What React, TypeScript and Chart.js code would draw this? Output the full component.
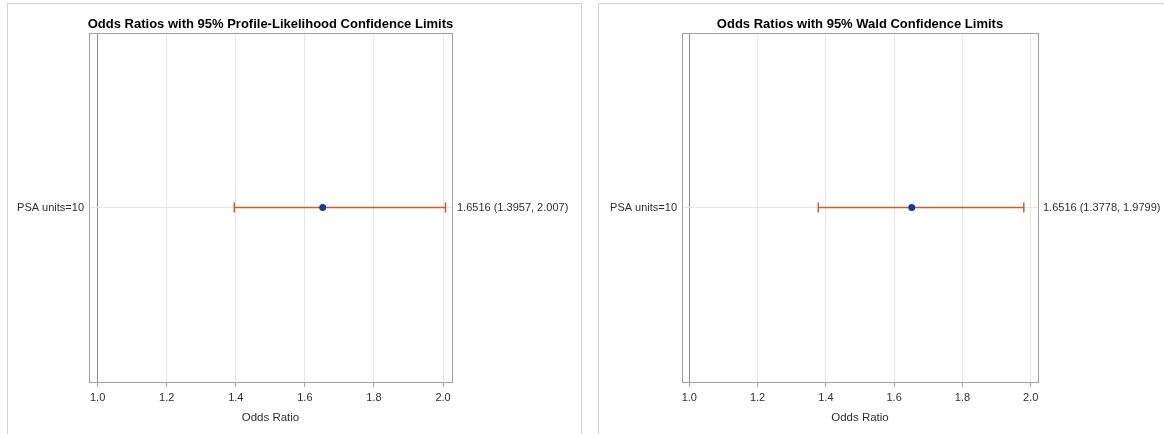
import React, { useEffect, useRef } from 'react';
import { Chart, registerables } from 'chart.js';

Chart.register(...registerables);

// Odds-ratio rows and their confidence limits
const categories = ['PSA units=10'];
const estimates = [1.6516];
const profileLower = [1.3957];
const profileUpper = [2.007];
const waldLower = [1.3778];
const waldUpper = [1.9799];
const xTicks = [1.0, 1.2, 1.4, 1.6, 1.8, 2.0];

const FONT = "'Liberation Sans', Arial, Helvetica, sans-serif";
const CI_COLOR = '#c95f30';
const EST_COLOR = '#17399a';
const FRAME_COLOR = '#a3a3a3';
const REF_COLOR = '#8e8e8e';
const GRID_COLOR = '#e6e6e6';
const TEXT_COLOR = '#2e2e2e';

const CANVAS_W = 575;
const CANVAS_H = 431;
const PLOT_TOP = 30;
const X_AXIS_H = 52;

type PanelProps = {
  title: string;
  lower: number[];
  upper: number[];
  xMin: number;
  xMax: number;
  leftW: number;
  rightW: number;
  left: number;
};

// Title centred over the plot area
const titlePlugin = {
  id: 'panelTitle',
  afterDraw(chart: any, _args: any, opts: any) {
    const { ctx, chartArea } = chart;
    ctx.save();
    ctx.font = `bold 13px ${FONT}`;
    ctx.fillStyle = '#000';
    ctx.textAlign = 'center';
    ctx.textBaseline = 'alphabetic';
    ctx.fillText(opts.text, (chartArea.left + chartArea.right) / 2, 25);
    ctx.restore();
  },
};

// Rectangle around the plot area
const framePlugin = {
  id: 'plotFrame',
  afterDatasetsDraw(chart: any) {
    const { ctx, chartArea } = chart;
    ctx.save();
    ctx.strokeStyle = FRAME_COLOR;
    ctx.lineWidth = 1;
    const l = Math.round(chartArea.left) + 0.5;
    const r = Math.round(chartArea.right) + 0.5;
    const t = Math.round(chartArea.top) + 0.5;
    const b = Math.round(chartArea.bottom) + 0.5;
    ctx.strokeRect(l, t, r - l, b - t);
    ctx.restore();
  },
};

function OddsPanel({ title, lower, upper, xMin, xMax, leftW, rightW, left }: PanelProps) {
  const canvasRef = useRef<HTMLCanvasElement | null>(null);

  useEffect(() => {
    if (!canvasRef.current) return;
    const rowTicks = () => categories.map((_, i) => ({ value: i + 1 }));
    const valueLabels = categories.map(
      (_, i) => `${estimates[i]} (${lower[i]}, ${upper[i]})`
    );

    const estimateData = categories.map((_, i) => ({ x: estimates[i], y: i + 1 }));
    const ciDatasets = categories.map((_, i) => ({
      type: 'line' as const,
      data: [
        { x: lower[i], y: i + 1 },
        { x: upper[i], y: i + 1 },
      ],
      showLine: true,
      borderColor: CI_COLOR,
      borderWidth: 1.5,
      pointStyle: 'line' as const,
      pointRotation: 90,
      pointRadius: 5,
      pointBorderColor: CI_COLOR,
      pointBorderWidth: 1.5,
      pointBackgroundColor: CI_COLOR,
      yAxisID: 'y',
    }));

    const chart = new Chart(canvasRef.current, {
      type: 'scatter',
      data: {
        datasets: [
          {
            type: 'scatter',
            data: estimateData,
            pointRadius: 3.5,
            pointBackgroundColor: EST_COLOR,
            pointBorderColor: EST_COLOR,
            pointBorderWidth: 0,
            yAxisID: 'y',
          },
          ...ciDatasets,
        ] as any,
      },
      options: {
        responsive: false,
        animation: false,
        events: [],
        layout: { padding: { top: PLOT_TOP, left: 0, right: 0, bottom: 0 } },
        plugins: {
          legend: { display: false },
          tooltip: { enabled: false },
          title: { display: false },
          panelTitle: { text: title },
        } as any,
        scales: {
          x: {
            type: 'linear',
            position: 'bottom',
            min: xMin,
            max: xMax,
            afterBuildTicks: (scale: any) => {
              scale.ticks = xTicks.map((v) => ({ value: v }));
            },
            afterFit: (scale: any) => {
              scale.height = X_AXIS_H;
            },
            border: { display: false },
            grid: {
              color: (c: any) => (c.tick && c.tick.value === 1 ? REF_COLOR : GRID_COLOR),
              lineWidth: 1,
              drawTicks: true,
              tickLength: 5,
              tickColor: FRAME_COLOR,
            },
            ticks: {
              autoSkip: false,
              maxRotation: 0,
              padding: 4,
              color: TEXT_COLOR,
              font: { family: FONT, size: 11 },
              callback: (v: any) => Number(v).toFixed(1),
            },
            title: {
              display: true,
              text: 'Odds Ratio',
              color: TEXT_COLOR,
              font: { family: FONT, size: 11.5 },
              padding: { top: 0, bottom: 9 },
            },
          },
          y: {
            type: 'linear',
            position: 'left',
            min: 0,
            max: categories.length + 1,
            afterBuildTicks: (scale: any) => {
              scale.ticks = rowTicks();
            },
            afterFit: (scale: any) => {
              scale.width = leftW;
            },
            border: { display: false },
            grid: { color: GRID_COLOR, lineWidth: 1, drawTicks: false },
            ticks: {
              autoSkip: false,
              padding: 5,
              color: TEXT_COLOR,
              font: { family: FONT, size: 11 },
              callback: (_v: any, i: number) => categories[i],
            },
          },
          yRight: {
            type: 'linear',
            position: 'right',
            min: 0,
            max: categories.length + 1,
            afterBuildTicks: (scale: any) => {
              scale.ticks = rowTicks();
            },
            afterFit: (scale: any) => {
              scale.width = rightW;
            },
            border: { display: false },
            grid: { display: false, drawTicks: false },
            ticks: {
              autoSkip: false,
              padding: 5,
              color: TEXT_COLOR,
              font: { family: FONT, size: 11 },
              callback: (_v: any, i: number) => valueLabels[i],
            },
          },
        } as any,
      },
      plugins: [titlePlugin, framePlugin],
    });

    return () => chart.destroy();
  }, [title, lower, upper, xMin, xMax, leftW, rightW]);

  return (
    <>
      <div
        style={{
          position: 'absolute',
          left,
          top: 3,
          width: CANVAS_W,
          height: 480,
          boxSizing: 'border-box',
          border: '1px solid #d2d2d2',
        }}
      />
      <canvas
        ref={canvasRef}
        width={CANVAS_W}
        height={CANVAS_H}
        style={{
          position: 'absolute',
          left,
          top: 3,
          width: CANVAS_W,
          height: CANVAS_H,
        }}
      />
    </>
  );
}

export default function App() {
  return (
    <div
      style={{
        position: 'fixed',
        left: 0,
        top: 0,
        width: 1164,
        height: 434,
        overflow: 'hidden',
        background: '#ffffff',
      }}
    >
      <OddsPanel
        title="Odds Ratios with 95% Profile-Likelihood Confidence Limits"
        lower={profileLower}
        upper={profileUpper}
        xMin={0.9751}
        xMax={2.0258}
        leftW={82}
        rightW={130}
        left={7}
      />
      <OddsPanel
        title="Odds Ratios with 95% Wald Confidence Limits"
        lower={waldLower}
        upper={waldUpper}
        xMin={0.9786}
        xMax={2.0214}
        leftW={84}
        rightW={135}
        left={598}
      />
    </div>
  );
}
